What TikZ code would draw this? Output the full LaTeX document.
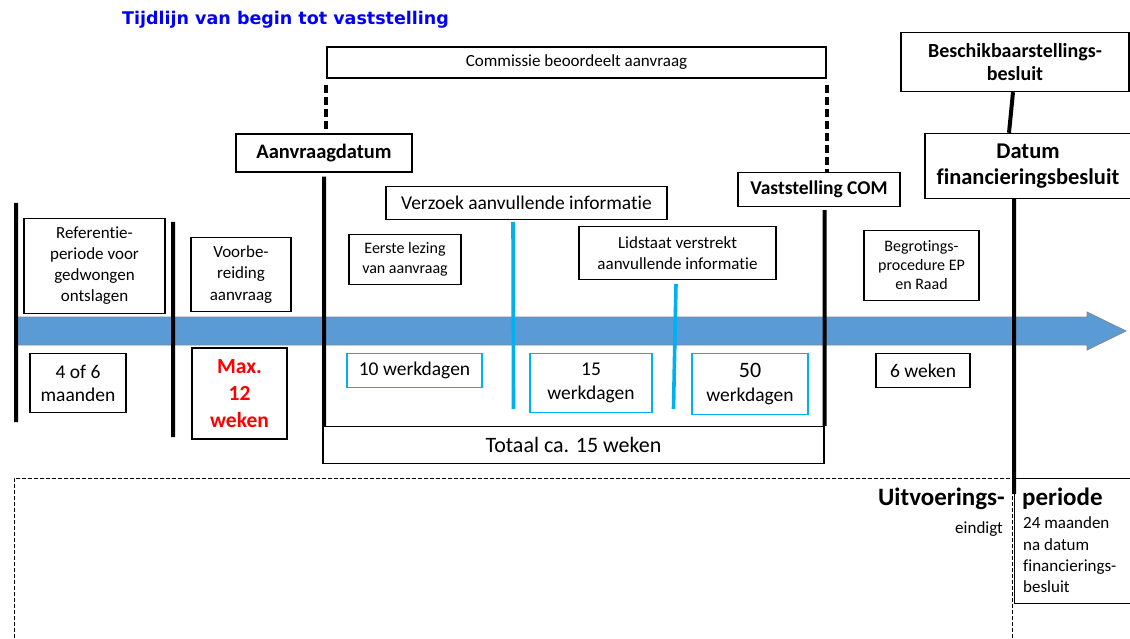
\documentclass[tikz,border=0pt]{standalone}
\usepackage{fontspec}
\setmainfont{Carlito}[Ligatures=NoCommon]
\newfontfamily\titelfont{DejaVu Sans}

\definecolor{lichtblauw}{RGB}{0,176,240}
\definecolor{balkblauw}{RGB}{91,155,213}
\definecolor{balkrand}{RGB}{125,135,150}
\definecolor{titelblauw}{RGB}{0,0,255}
\definecolor{rood}{RGB}{255,0,0}

\begin{document}
\begin{tikzpicture}[x=1pt,y=-1pt]

\tikzstyle{kader}=[draw,line width=1.4pt,inner sep=0pt,align=center,font=\fontsize{17}{21}\selectfont]
\tikzstyle{blauwkader}=[kader,draw=lichtblauw,font=\fontsize{19.5}{23.5}\selectfont]
\tikzstyle{vetkader}=[kader,font=\bfseries\fontsize{20}{23.5}\selectfont]
\tikzstyle{tijdlijn}=[line width=4pt]
\tikzstyle{stippel}=[line width=4pt,dash pattern=on 8pt off 4pt]
\tikzstyle{blauwlijn}=[line width=3.6pt,draw=lichtblauw]
\tikzstyle{tekst}=[inner sep=0pt,font=\fontsize{17}{20}\selectfont]

\clip (0,0) rectangle (1130,639);

% Title
\node[tekst,anchor=base west,text=titelblauw,font=\titelfont\bfseries\fontsize{17.5}{21}\selectfont] (titel) at (122,25) {Tijdlijn van begin tot vaststelling};

% The time arrow
\draw[fill=balkblauw,draw=balkrand,line width=0.8pt] (16,317) -- (1087,317) -- (1087,312) -- (1126,331) -- (1087,350) -- (1087,345) -- (16,345) -- cycle;

% Milestones above the arrow
\node[kader,minimum width=499,minimum height=31] (commissie) at (576.5,62.5) {Commissie beoordeelt aanvraag};
\node[vetkader,minimum width=176,minimum height=38,font=\bfseries\fontsize{20.5}{24}\selectfont] (aanvraag) at (324,153) {Aanvraagdatum};
\node[vetkader,minimum width=162,minimum height=34,font=\bfseries\fontsize{19.5}{23}\selectfont] (vaststelling) at (819,189.5) {Vaststelling COM};
\node[vetkader,minimum width=228,minimum height=59] (beschik) at (1015,62) {Beschikbaarstellings-\\besluit};
\node[vetkader,minimum width=206,minimum height=65,font=\bfseries\fontsize{22.5}{26.5}\selectfont] (datum) at (1028,166) {Datum\\financieringsbesluit};
\node[kader,minimum width=281,minimum height=33,font=\fontsize{19.5}{23}\selectfont] (verzoek) at (526.5,203) {Verzoek aanvullende informatie};

% Steps above the arrow
\node[kader,minimum width=141,minimum height=95] (referentie) at (94.5,266) {Referentie-\\periode voor\\gedwongen\\ontslagen};
\node[kader,minimum width=100,minimum height=74,font=\fontsize{17}{21.5}\selectfont] (voorbereiding) at (241,274.5) {Voorbe-\\reiding\\aanvraag};
\node[kader,minimum width=112,minimum height=50,font=\fontsize{16}{20}\selectfont] (eerste) at (405,259.5) {Eerste lezing\\van aanvraag};
\node[kader,minimum width=197,minimum height=53] (lidstaat) at (677.5,253) {Lidstaat verstrekt\\aanvullende informatie};
\node[kader,minimum width=115,minimum height=70,font=\fontsize{16}{19}\selectfont] (begroting) at (921.5,265.5) {Begrotings-\\procedure EP\\en Raad};

% Durations below the arrow
\node[kader,minimum width=96,minimum height=59,font=\fontsize{19.5}{23}\selectfont] (vierzes) at (78,383) {4 of 6\\maanden};
\node[kader,minimum width=95,minimum height=91,text=rood,font=\bfseries\fontsize{21.5}{27}\selectfont] (maxweken) at (239.5,393.5) {Max.\\12\\weken};
\node[blauwkader,minimum width=135,minimum height=34] (tien) at (414.5,370.5) {10 werkdagen};
\node[blauwkader,minimum width=122,minimum height=59] (vijftien) at (591,383) {15\\werkdagen};
\node[blauwkader,minimum width=116,minimum height=61,font=\fontsize{19.5}{24}\selectfont] (vijftig) at (750,384) {{\fontsize{22}{24}\selectfont 50}\\werkdagen};
\node[kader,minimum width=94,minimum height=34,font=\fontsize{19.5}{23}\selectfont] (zesweken) at (923,370.5) {6 weken};
\node[kader,minimum width=501,minimum height=37,font=\fontsize{22}{26}\selectfont] (totaal) at (573.5,445) {Totaal ca. 15 weken};

% Free ends of the marker lines
\coordinate (start1) at (16,203);
\coordinate (eind1) at (16,422);
\coordinate (start2) at (173,222);
\coordinate (eind2) at (173,437);
\coordinate (verzoek1) at (513,222);
\coordinate (verzoek2) at (513.5,409);
\coordinate (lidstaat1) at (676,284);
\coordinate (lidstaat2) at (673.5,409);
\coordinate (einde) at (1014,494);

% Marker lines
\draw[tijdlijn] (start1) -- (eind1)
(start2) -- (eind2)
([yshift=-4pt]aanvraag.south) -- (aanvraag.south |- totaal.north)
([yshift=-3pt]totaal.north east |- vaststelling.south) -- (totaal.north east)
([xshift=-2pt]beschik.south) -- ([xshift=-19pt]datum.north)
(datum.south -| einde) -- (einde);
\draw[stippel] ([yshift=-6pt]commissie.south west) -- (commissie.south west |- aanvraag.north)
([yshift=-6pt]commissie.south east) -- (commissie.south east |- vaststelling.north);
\draw[blauwlijn] (verzoek1) -- (verzoek2)
(lidstaat1) -- (lidstaat2);

% Implementation period
\node[draw,dash pattern=on 4pt off 2pt,line width=0.9pt,anchor=north west,minimum width=998,minimum height=200,inner sep=0pt] (uitvoering) at (14,478) {};
\node[draw,line width=1.4pt,anchor=north west,minimum width=130,minimum height=125,inner sep=0pt] (periodekader) at (1014,478) {};
\node[tekst,anchor=base east,font=\bfseries\fontsize{25}{28}\selectfont] (uitvoerings) at (1005,505) {Uitvoerings-};
\node[tekst,anchor=base east] (eindigt) at (1003,533) {eindigt};
\node[tekst,anchor=base west,font=\bfseries\fontsize{25}{28}\selectfont] (periode) at (1022,505) {periode};
\foreach \regel [count=\i] in {24 maanden,na datum,financierings-,besluit}
  \node[tekst,anchor=base west] (regel\i) at (1023,507.6+21.3*\i) {\regel};

\end{tikzpicture}
\end{document}
